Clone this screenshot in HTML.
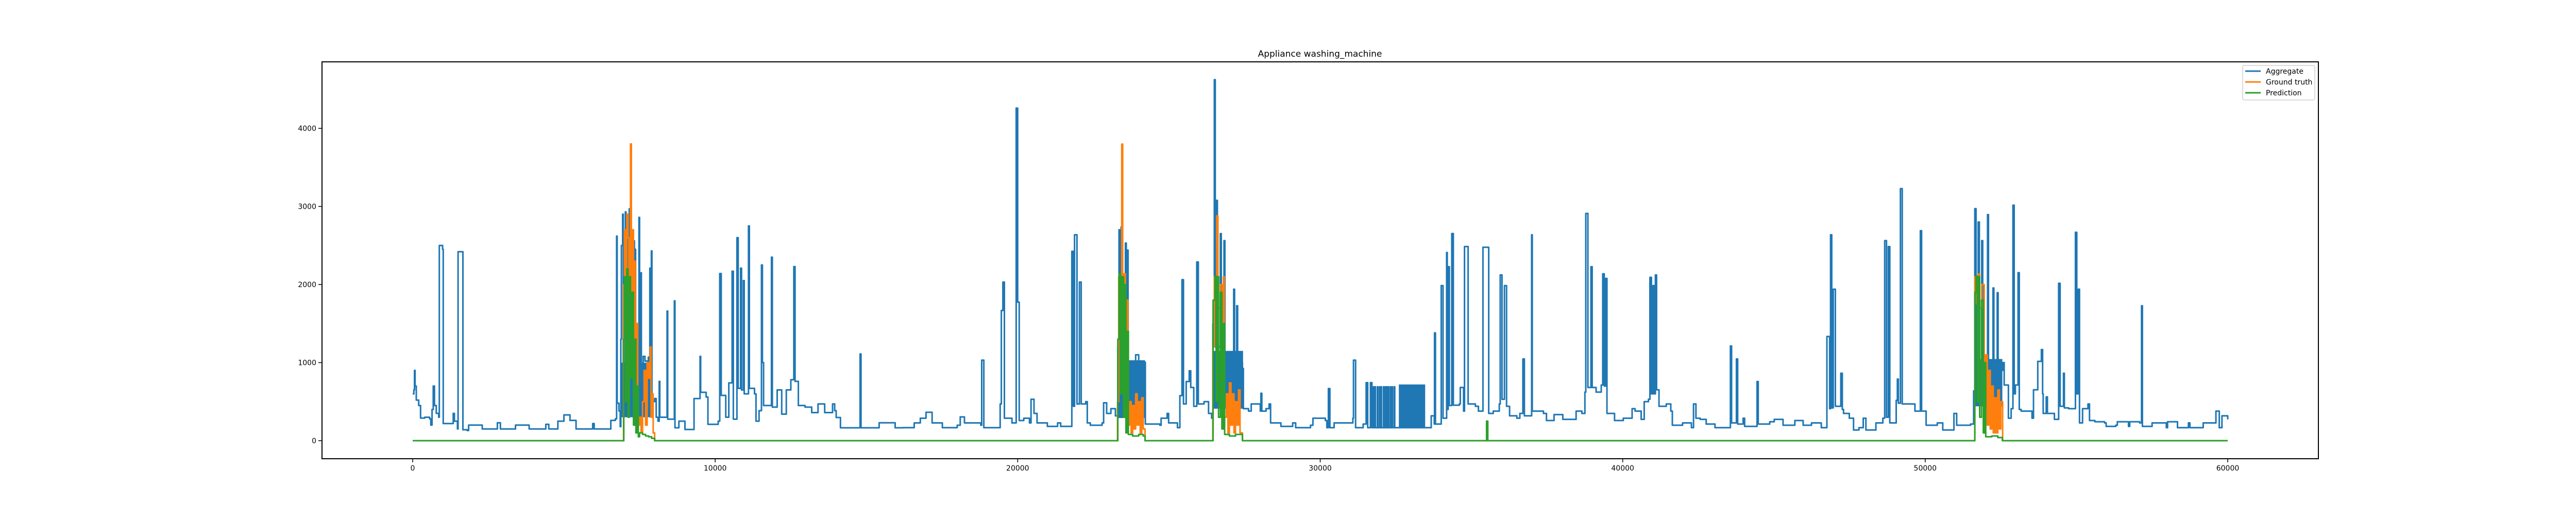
<!DOCTYPE html>
<html><head><meta charset="utf-8"><style>
html,body{margin:0;padding:0;background:#fff;}
svg text{font-family:"DejaVu Sans","Liberation Sans",sans-serif;}
</style></head><body>
<svg id="chart" width="5000" height="1000" viewBox="0 0 5000 1000" xmlns="http://www.w3.org/2000/svg">
<rect x="0" y="0" width="5000" height="1000" fill="#fff"/>
<text x="2562" y="110" font-size="17" text-anchor="middle" fill="#000">Appliance washing_machine</text>
<g id="plot"></g>
<rect x="625" y="120" width="3875" height="770" fill="none" stroke="#000" stroke-width="2"/>
<g id="xticks"></g>
<g id="yticks"></g>
<g>
<rect x="4353" y="127" width="140" height="67" rx="3" fill="#fff" fill-opacity="0.8" stroke="#d0d0d0" stroke-width="1.5"/>
<line x1="4358" y1="138" x2="4388" y2="138" stroke="#1f77b4" stroke-width="3"/>
<text x="4398" y="143" font-size="14" fill="#000">Aggregate</text>
<line x1="4358" y1="159" x2="4388" y2="159" stroke="#ff7f0e" stroke-width="3"/>
<text x="4398" y="164" font-size="14" fill="#000">Ground truth</text>
<line x1="4358" y1="180" x2="4388" y2="180" stroke="#2ca02c" stroke-width="3"/>
<text x="4398" y="185" font-size="14" fill="#000">Prediction</text>
</g>
</svg>
<script>
const xTicks=[0,10000,20000,30000,40000,50000,60000];
const yTicks=[0,1000,2000,3000,4000];
const aggregate=[[0,600],[40,650],[60,900],[80,700],[120,520],[200,450],[260,290],[400,300],[560,280],[600,200],[640,400],[680,700],[720,450],[780,350],[860,300],[880,2500],[990,2450],[1010,220],[1300,220],[1340,350],[1380,250],[1480,150],[1500,2420],[1640,2420],[1660,140],[1800,130],[1850,200],[2200,200],[2300,150],[2700,150],[2800,230],[2900,150],[3300,150],[3400,200],[3800,200],[3850,150],[4300,150],[4400,210],[4500,150],[4800,250],[5000,330],[5200,260],[5400,150],[5900,150],[5950,220],[6000,150],[6500,150],[6550,260],[6700,280],[6740,2620],[6760,480],[6820,380],[6860,180],[6880,1300],[6900,2500],
[6940,2900],[6960,600],[7030,2930],[7050,800],[7080,2670],[7100,500],[7160,2970],[7180,600],[7310,2560],[7330,500],[7350,2450],[7370,600],[7480,2860],[7500,500],[7540,2150],[7560,500],[7620,1080],[7680,1020],[7790,1070],[7800,600],[7840,2210],[7860,500],[7890,2430],[7910,500],[8000,540],[8050,300],[8110,250],[8150,760],[8170,300],[8410,1660],[8430,275],[8650,1790],[8670,165],[8800,250],[9000,143],[9300,540],[9500,1080],[9520,620],[9700,560],[9760,210],[10100,250],[10150,2140],[10200,580],[10350,300],[10450,740],[10560,2170],[10600,275],[10720,2600],[10760,670],[10840,2210],[10870,650],[10930,2050],[10960,600],[11100,2750],[11130,670],[11300,600],[11350,250],[11450,385],[11530,2250],[11560,1000],[11600,450],[11860,2350],[11890,430],[12050,650],[12200,340],[12350,650],[12500,780],[12600,2230],[12640,760],[12750,450],[12970,430],[13190,360],[13400,470],[13620,360],[13880,470],[13950,385],[14000,297],[14140,165],[14790,1110],[14820,165],[15300,165],[15420,230],[15850,230],[15950,165],
[16190,167],[16580,228],[16780,288],[16970,364],[17120,364],[17170,228],[17510,167],[18000,198],[18100,304],[18240,228],[18780,198],[18810,1031],[18880,167],[19320,167],[19420,470],[19460,1667],[19510,2031],[19560,288],[19810,228],[19950,4259],[20000,1774],[20050,258],[20200,288],[20390,228],[20440,531],[20540,349],[20640,228],[20980,183],[21320,228],[21420,183],[21760,183],[21790,2425],[21840,440],[21880,2637],[21960,470],[22040,2031],[22100,470],[22250,500],[22300,228],[22400,198],[22790,228],[22840,485],[22940,349],[23080,410],[23230,319],
[23310,1200],[23350,2700],[23380,1000],[23420,2737],[23460,900],[23560,2531],[23590,900],[23620,2440],[23650,900],[23900,1100],[24000,1016],[24200,1000],[24220,213],
[24260,213],[24700,198],[24740,288],[24940,349],[24990,228],[25280,167],[25360,577],[25430,2062],[25480,470],[25570,758],[25670,895],[25720,682],[25820,440],[25920,2289],[25970,470],[26160,500],[26310,349],[26410,288],
[26450,1500],[26500,4623],[26530,1200],[26570,3077],[26600,1200],[26700,2652],[26730,1200],[26820,2562],[26850,1100],[27140,1940],[27170,1000],[27240,1728],[27270,1000],[27430,925],[27460,410],
[27630,379],[27720,470],[28020,379],[28040,607],[28070,379],[28210,410],[28310,470],[28360,228],[28700,183],[29090,228],[29190,167],[29680,198],[29760,288],[30170,258],[30220,167],[30270,667],[30320,167],[30460,228],
[30830,228],[31080,288],[31100,1031],[31170,167],[31420,213],[31520,743],[31570,167],[31660,743],[31710,167],
[31760,690],[31775,167],[31810,690],[31825,167],[31890,690],[31905,167],[31960,690],[31975,167],[32010,690],[32025,167],[32090,690],[32105,167],[32150,690],[32165,167],[32200,690],[32215,167],[32250,690],[32265,167],[32320,690],[32335,167],[32380,690],[32395,167],[32450,690],[32465,167],
[33470,167],[33570,167],[33670,319],[33770,213],[33780,1380],[33810,213],[34000,1986],[34060,288],[34180,2410],[34200,400],[34230,2228],[34270,450],[34350,2653],[34400,455],[34600,470],[34630,682],[34740,379],[34770,2486],[34860,2486],[34890,470],[35130,440],[35230,379],[35380,2477],[35525,2477],[35570,349],[35720,379],[35920,470],[35950,2122],[36010,531],[36090,1986],[36160,440],[36260,319],[36500,288],[36600,349],[36700,1046],[36750,319],[36990,2637],[37010,379],[37090,379],[37380,349],[37480,258],[37730,334],[38020,273],[38360,273],[38460,379],[38650,349],[38750,622],[38780,2910],[38850,682],[38950,2228],[38990,682],[39120,622],[39290,713],[39340,2137],[39390,700],[39430,2077],[39480,349],[39730,258],[40020,288],[40310,410],[40410,379],[40610,273],[40710,500],[40850,531],[40900,2092],[40950,600],[41000,1986],[41040,600],[41080,2122],[41120,652],[41200,440],[41440,470],[41590,379],[41640,198],[41980,228],[42270,167],[42340,470],[42420,288],[42560,273],[42760,213],[43050,167],[43560,1213],[43600,228],[43760,1046],[43800,213],[43980,288],[44030,183],[44420,183],[44440,758],[44480,213],[44860,243],[45010,273],[45300,198],[45690,258],
[45965,198],[46240,228],[46565,167],[46750,1334],[46840,410],[46870,2637],[46910,420],[46960,1940],[47030,440],[47210,864],[47260,400],[47300,349],[47490,288],[47630,137],[47810,167],[47950,288],[48040,137],[48370,228],[48600,288],[48660,2562],[48720,300],[48780,2486],[48830,228],[48920,228],[49040,516],[49080,789],[49110,480],[49180,3228],[49240,470],[49610,470],[49660,379],[49840,2689],[49880,379],[49930,379],[50030,198],[50400,228],[50580,137],[50950,349],[51040,198],[51500,213],[51600,637],
[51640,2971],[51680,1000],[51750,2800],[51790,900],[51870,2562],[51900,900],[52060,2895],[52090,1000],[52240,1956],[52270,900],[52380,1895],[52410,900],[52560,1000],
[52610,713],[52750,288],[52840,410],[52900,3016],[52940,600],[52980,713],[53070,2152],[53110,400],[53170,379],[53350,379],[53530,288],[53580,652],[53720,1016],[53840,1167],[53880,600],[53900,349],[54000,561],[54040,349],[54230,349],[54270,273],[54410,2016],[54460,440],[54550,440],[54570,864],[54600,420],[54740,410],[54965,2668],[55010,600],[55060,1940],[55100,228],[55200,410],[55380,470],[55430,258],[55610,243],[55930,228],[55980,183],[56300,198],[56350,243],[56720,183],[56760,243],[57090,228],[57150,1728],[57180,183],[57460,183],[57500,228],[57970,167],[58010,243],[58340,167],[58660,167],[58700,228],[58750,167],[59170,167],[59190,228],[59580,228],[59610,379],[59700,379],[59720,167],[59780,167],[59810,319],[60000,273]];
// dense oscillation envelopes of aggregate: [xStart, xEnd, low, high]
const aggregateBands=[[6900,7900,300,1000],[23300,24200,290,1030],[26450,27450,410,1150],[32600,33470,167,720],[51650,52550,440,1046]];
const groundTruth=[[0,0],[6950,0],[6970,2000],[7000,2700],[7050,1700],[7080,2900],[7120,2600],[7150,1500],[7200,3800],[7230,1800],[7260,2700],[7300,1200],[7330,2300],[7360,600],[7400,1500],[7440,200],[7500,300],[7550,100],[7600,500],[7650,900],[7700,200],[7750,1000],[7800,800],[7850,1200],[7880,300],[7900,600],[7950,100],[8000,0],
[23250,0],[23300,500],[23340,2100],[23380,1500],[23440,3798],[23470,1600],[23520,2137],[23560,300],[23600,1800],[23640,200],[23700,500],[23750,100],[23800,450],[23850,150],[23900,600],[23950,200],[24000,500],[24050,100],[24100,550],[24150,150],[24210,0],
[26400,0],[26450,1200],[26500,2100],[26560,1700],[26580,2880],[26620,1700],[26700,2000],[26760,1000],[26800,2100],[26830,300],[26900,600],[26950,100],[27000,740],[27050,200],[27100,600],[27150,100],[27200,500],[27250,200],[27300,650],[27350,100],[27430,0],
[51600,0],[51640,2100],[51700,1750],[51760,2137],[51800,1700],[51870,2000],[51950,400],[52000,1100],[52050,200],[52100,900],[52150,150],[52200,700],[52250,100],[52300,550],[52350,100],[52400,650],[52450,150],[52500,500],[52560,0],[60000,0]];
const prediction=[[0,0],[6950,0],[6980,1300],[7000,2100],[7040,500],[7080,2200],[7120,300],[7160,2100],[7200,800],[7250,1900],[7300,200],[7340,1300],[7380,100],[7420,700],[7460,50],[7500,100],[7600,80],[7700,60],[7800,50],[7900,30],[8000,0],
[23280,0],[23310,1300],[23350,2137],[23400,600],[23450,2100],[23500,300],[23540,2000],[23580,100],[23620,1400],[23660,80],[23800,60],[24000,80],[24150,60],[24210,0],
[26420,0],[26460,1800],[26520,2107],[26560,500],[26600,2100],[26640,300],[26700,1900],[26750,150],[26800,1500],[26840,80],[27000,60],[27200,80],[27430,0],
[35450,0],[35500,250],[35540,0],
[51600,0],[51640,1900],[51680,2107],[51720,500],[51760,2100],[51800,300],[51860,1800],[51920,100],[51960,1000],[52000,50],[52200,60],[52400,40],[52550,0],[60000,0]];

const NS="http://www.w3.org/2000/svg";
function xs(v){return 801+v*(4324-801)/60000;}
function ys(v){return 855-v*(855-249)/4000;}
const plot=document.getElementById('plot');
function stepPath(arr){
  let d='M'+xs(arr[0][0]).toFixed(1)+' '+ys(arr[0][1]).toFixed(1);
  for(let i=1;i<arr.length;i++){d+='H'+xs(arr[i][0]).toFixed(1)+'V'+ys(arr[i][1]).toFixed(1);}
  return d;
}
function addLine(arr,color,name){
  const p=document.createElementNS(NS,'path');
  p.setAttribute('d',stepPath(arr));
  p.setAttribute('fill','none');p.setAttribute('stroke',color);
  p.setAttribute('stroke-width','3');p.setAttribute('stroke-linejoin','round');
  
  
  plot.appendChild(p);
}
aggregateBands.forEach(b=>{
  const r=document.createElementNS(NS,'rect');
  r.setAttribute('x',xs(b[0]));r.setAttribute('width',xs(b[1])-xs(b[0]));
  r.setAttribute('y',ys(b[3]));r.setAttribute('height',ys(b[2])-ys(b[3]));
  r.setAttribute('fill','#1f77b4');
  
  
  plot.appendChild(r);
});
addLine(aggregate,'#1f77b4','aggregate-line');
addLine(groundTruth,'#ff7f0e','ground-truth-line');
addLine(prediction,'#2ca02c','prediction-line');

const xg=document.getElementById('xticks');
xTicks.forEach(v=>{
  const l=document.createElementNS(NS,'line');
  l.setAttribute('x1',xs(v));l.setAttribute('x2',xs(v));l.setAttribute('y1',890);l.setAttribute('y2',897);
  l.setAttribute('stroke','#000');l.setAttribute('stroke-width','1.5');
  
  
  xg.appendChild(l);
  const t=document.createElementNS(NS,'text');
  t.setAttribute('x',xs(v));t.setAttribute('y',913);t.setAttribute('font-size','14');t.setAttribute('text-anchor','middle');
  t.textContent=String(v);
  
  
  xg.appendChild(t);
});
const yg=document.getElementById('yticks');
yTicks.forEach(v=>{
  const l=document.createElementNS(NS,'line');
  l.setAttribute('x1',618);l.setAttribute('x2',625);l.setAttribute('y1',ys(v));l.setAttribute('y2',ys(v));
  l.setAttribute('stroke','#000');l.setAttribute('stroke-width','1.5');
  
  
  yg.appendChild(l);
  const t=document.createElementNS(NS,'text');
  t.setAttribute('x',614);t.setAttribute('y',ys(v)+5);t.setAttribute('font-size','14');t.setAttribute('text-anchor','end');
  t.textContent=String(v);
  
  
  yg.appendChild(t);
});
</script>
</body></html>
